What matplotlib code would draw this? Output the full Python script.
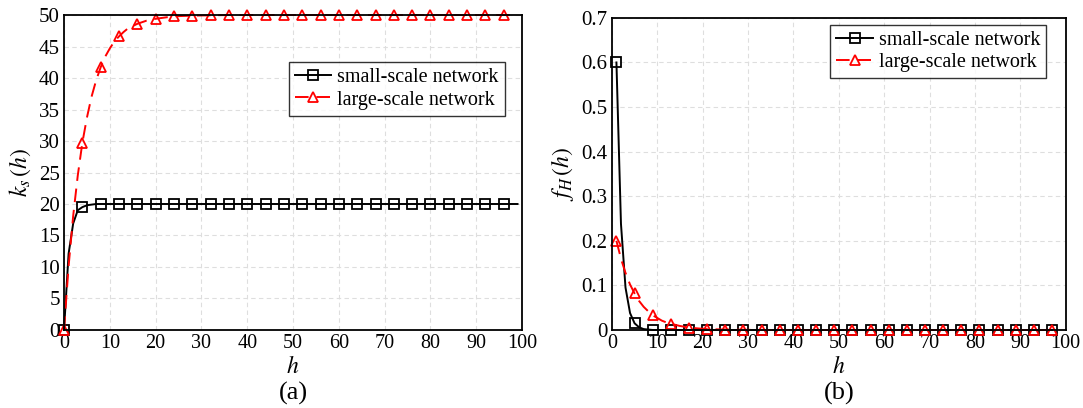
import matplotlib
matplotlib.use("Agg")
import matplotlib.pyplot as plt
import numpy as np

plt.rcParams['font.family'] = ['Liberation Serif', 'DejaVu Serif']
plt.rcParams['mathtext.fontset'] = 'stix'

# panel (a): k_s(h)
h_a = [0, 1, 2, 3, 4, 5, 6, 7, 8, 9, 10, 11, 12, 13, 14, 16, 18, 20,
       24, 28, 32, 36, 40, 44, 48, 52, 56, 60, 64, 68, 72, 76, 80, 84, 88, 92, 96, 99]
small_a = [0, 12.1, 16.9, 19.0, 19.5, 19.8, 19.9, 20.0, 20.0, 20.0, 20.0, 20.0, 20.0, 20.0, 20.0,
           20.0, 20.0, 20.0, 20.0, 20.0, 20.0, 20.0, 20.0, 20.0, 20.0, 20.0, 20.0, 20.0, 20.0,
           20.0, 20.0, 20.0, 20.0, 20.0, 20.0, 20.0, 20.0, 20.0]
large_a = [0, 10.1, 18.1, 24.5, 29.7, 33.7, 37.0, 39.6, 41.7, 43.4, 44.7, 45.8, 46.6, 47.3, 47.9,
           48.6, 49.1, 49.4, 49.8, 49.9, 49.95, 50.0, 50.0, 50.0, 50.0, 50.0, 50.0, 50.0, 50.0,
           50.0, 50.0, 50.0, 50.0, 50.0, 50.0, 50.0, 50.0, 50.0]

# panel (b): f_H(h)
h_b = [1, 2, 3, 4, 5, 6, 7, 8, 9, 10, 11, 12, 13, 15, 17, 19, 21,
       25, 29, 33, 37, 41, 45, 49, 53, 57, 61, 65, 69, 73, 77, 81, 85, 89, 93, 97]
small_b = [0.6, 0.238, 0.095, 0.038, 0.015, 0.006, 0.002, 0.001, 0.0, 0.0, 0.0, 0.0, 0.0,
           0.0, 0.0, 0.0, 0.0, 0.0, 0.0, 0.0, 0.0, 0.0, 0.0, 0.0, 0.0, 0.0, 0.0, 0.0, 0.0,
           0.0, 0.0, 0.0, 0.0, 0.0, 0.0, 0.0]
large_b = [0.2, 0.160, 0.128, 0.102, 0.082, 0.065, 0.052, 0.042, 0.033, 0.027, 0.021, 0.017,
           0.014, 0.009, 0.0055, 0.0035, 0.002, 0.001, 0.0005, 0.0, 0.0, 0.0, 0.0, 0.0, 0.0,
           0.0, 0.0, 0.0, 0.0, 0.0, 0.0, 0.0, 0.0, 0.0, 0.0, 0.0]

labels = ['small-scale network', 'large-scale network']

fig = plt.figure(figsize=(10.83, 4.08), dpi=100)
ax1 = fig.add_axes([0.0591, 0.1912, 0.423, 0.772])
ax2 = fig.add_axes([0.565, 0.1912, 0.419, 0.765])


def draw(ax, h, s, l, first):
    h = np.array(h)
    mk = [i for i, v in enumerate(h) if (v - first) % 4 == 0 and v <= 97]
    ax.plot(h, s, color='black', lw=1.4, marker='s', ms=6.5, mfc='none', mew=1.3,
            markevery=mk, label=labels[0], zorder=3, clip_on=False)
    ax.plot(h, l, color='red', lw=1.4, ls=(0, (7, 4)), marker='^', ms=7.5, mfc='none', mew=1.3,
            markevery=mk, label=labels[1], zorder=3, clip_on=False)
    ax.set_xlim(0, 100)
    ax.set_xticks(range(0, 101, 10))
    ax.grid(True, color='#dedede', ls=(0, (4, 3)), lw=0.8)
    ax.set_axisbelow(True)
    ax.tick_params(length=0, labelsize=15, pad=3)
    ax.tick_params(axis='x', labelsize=14.5)
    for sp in ax.spines.values():
        sp.set_linewidth(1.3)
        sp.set_zorder(4)
    ax.set_xlabel('$h$', fontsize=17, labelpad=2)
    leg = ax.legend(loc='upper right', fontsize=14.5, frameon=True, fancybox=False,
                    edgecolor='black', handlelength=1.8, handletextpad=0.3,
                    borderpad=0.3, labelspacing=0.15, borderaxespad=0)
    leg.get_frame().set_linewidth(1.0)
    return leg


leg1 = draw(ax1, h_a, small_a, large_a, 0)
ax1.set_ylim(0, 50)
ax1.set_yticks(range(0, 51, 5))
ax1.set_ylabel('$k_s\\,(h)$', fontsize=17, labelpad=4)
leg1.set_bbox_to_anchor((0.962, 0.85), transform=ax1.transAxes)

leg2 = draw(ax2, h_b, small_b, large_b, 1)
ax2.set_ylim(0, 0.7)
ax2.set_yticks([0, 0.1, 0.2, 0.3, 0.4, 0.5, 0.6, 0.7])
ax2.set_yticklabels(['0', '0.1', '0.2', '0.3', '0.4', '0.5', '0.6', '0.7'])
ax2.set_ylabel('$f_H\\,(h)$', fontsize=17, labelpad=4)
leg2.set_bbox_to_anchor((0.957, 0.977), transform=ax2.transAxes)

fig.text(0.2705, 0.02, '(a)', fontsize=19, ha='center')
fig.text(0.775, 0.02, '(b)', fontsize=19, ha='center')

fig.savefig('out.png', dpi=100)
